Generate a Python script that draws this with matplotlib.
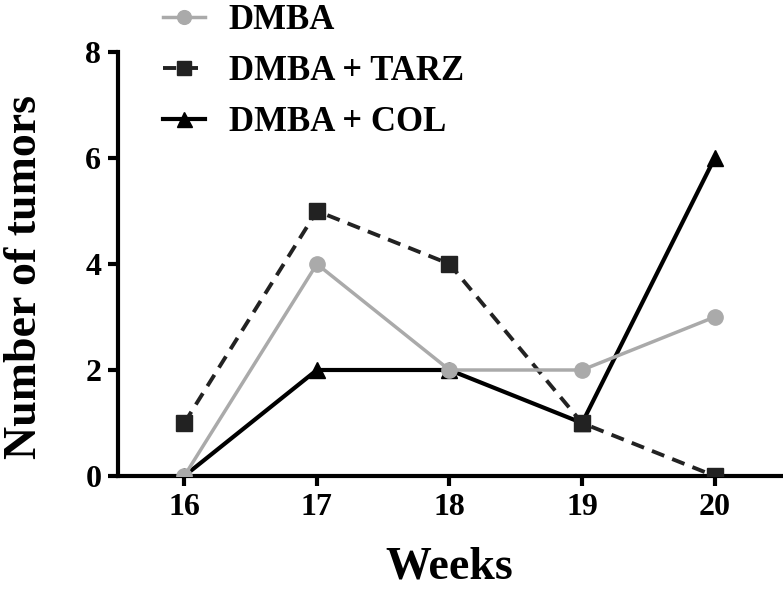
import matplotlib
matplotlib.use("Agg")
import matplotlib.pyplot as plt

weeks = [16, 17, 18, 19, 20]
dmba = [0, 4, 2, 2, 3]
dmba_tarz = [1, 5, 4, 1, 0]
dmba_col = [0, 2, 2, 1, 6]
labels = ["DMBA", "DMBA + TARZ", "DMBA + COL"]
yticks = [0, 2, 4, 6, 8]

plt.rcParams['font.family'] = ['Liberation Serif', 'DejaVu Serif']
plt.rcParams['font.weight'] = 'bold'

fig = plt.figure(figsize=(7.83, 5.99), dpi=100)
ax = fig.add_axes([118/783, (599-476)/599, (781-118)/783, (476-52)/599])

l3, = ax.plot(weeks, dmba_col, color='black', lw=3.0, marker='^', ms=12,
              zorder=3, label=labels[2])
l2, = ax.plot(weeks, dmba_tarz, color='#222222', lw=2.8, ls=(0, (3.4, 2.2)),
              marker='s', ms=11, zorder=4, label=labels[1])
l1, = ax.plot(weeks, dmba, color='#aaaaaa', lw=2.5, marker='o', ms=11,
              zorder=5, label=labels[0])

ax.set_xlim(15.5, 20.5)
ax.set_ylim(0, 8)
ax.set_xticks(weeks)
ax.set_yticks(yticks)
for s in ['top', 'right']:
    ax.spines[s].set_visible(False)
for s in ['left', 'bottom']:
    ax.spines[s].set_linewidth(3.0)
ax.tick_params(axis='both', length=7, width=3.0, labelsize=23, pad=5)
for t in ax.get_xticklabels() + ax.get_yticklabels():
    t.set_fontweight('bold')

ax.set_xlabel("Weeks", fontsize=33, fontweight='bold')
ax.xaxis.set_label_coords(0.5, -0.215)
ax.set_ylabel("Number of tumors", fontsize=33, fontweight='bold')
ax.yaxis.set_label_coords(-0.14, 0.47)
for lab in (ax.xaxis.label, ax.yaxis.label):
    lab.set_va('center')

leg = fig.legend(handles=[l1, l2, l3], labels=labels, loc='upper left',
                 bbox_to_anchor=(149/783, 1.017), frameon=False,
                 prop={'size': 25, 'weight': 'bold'}, handlelength=1.2,
                 handletextpad=0.7, labelspacing=0.52, borderaxespad=0.0,
                 markerscale=0.9)

fig.savefig("out.png", dpi=100)
